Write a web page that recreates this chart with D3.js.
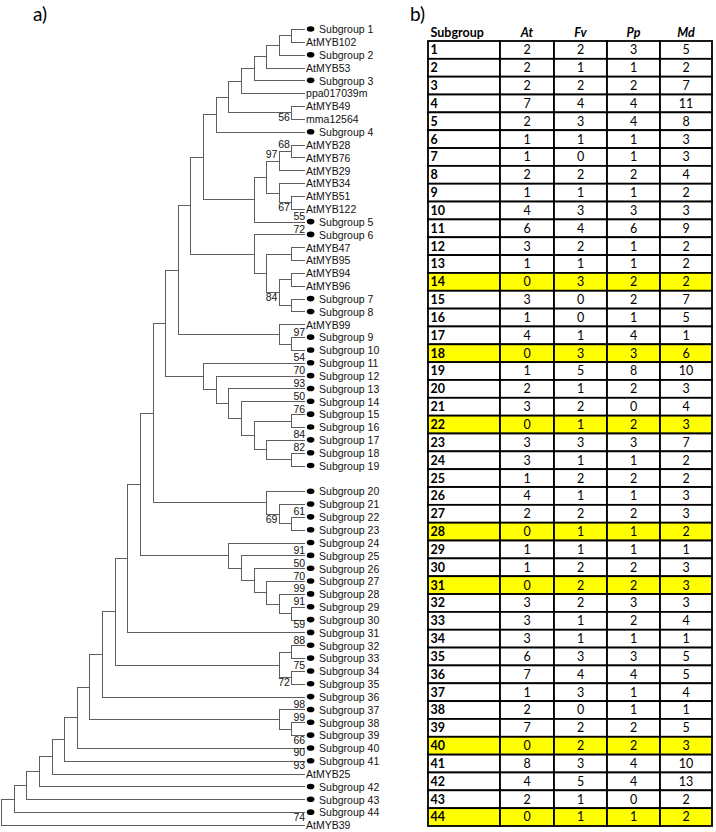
<!DOCTYPE html>
<html><head><meta charset="utf-8">
<script src="https://cdn.jsdelivr.net/npm/d3@7"></script>
<style>body{margin:0;background:#fff}</style>
</head><body>
<svg id="chart" width="716" height="832"></svg>
<script>
// ---------------- DATA ----------------
// Tree topology (Newick); internal-node labels = drawn node level (leaves sit at the last level)
const cladeA = "(((((((Subgroup 1,AtMYB102)23,Subgroup 2)22,AtMYB53)21,Subgroup 3)20,ppa017039m)19,(AtMYB49,mma12564)23)18,Subgroup 4)17";
const cladeB = "((((AtMYB28,AtMYB76)23,AtMYB29)22,(AtMYB34,(AtMYB51,AtMYB122)23)22)21,Subgroup 5)20";
const cladeC = "(Subgroup 6,((AtMYB47,AtMYB95)23,((AtMYB94,AtMYB96)23,(Subgroup 7,Subgroup 8)23)22)21)20";
const cladeD = "(AtMYB99,(Subgroup 9,Subgroup 10)23)22";
const cladeE = "(Subgroup 11,(Subgroup 12,(Subgroup 13,(Subgroup 14,((Subgroup 15,Subgroup 16)23,(Subgroup 17,(Subgroup 18,Subgroup 19)23)21)20)19)18)17)16";
const cladeF = "(Subgroup 20,(Subgroup 21,(Subgroup 22,Subgroup 23)23)22)21";
const cladeG = "(Subgroup 24,(Subgroup 25,(Subgroup 26,(Subgroup 27,(Subgroup 28,(Subgroup 29,Subgroup 30)23)22)21)20)19)18";
const cladeH = "((Subgroup 32,Subgroup 33)23,(Subgroup 34,Subgroup 35)23)22";
const cladeI = "(Subgroup 37,(Subgroup 38,Subgroup 39)23)22";

const treeNewick =
  "(((((((((((((((((" + cladeA + "," + cladeB + ")16," + cladeC + ")15," + cladeD + ")14," +
  cladeE + ")13," + cladeF + ")12," + cladeG + ")11,Subgroup 31)10," + cladeH + ")9,Subgroup 36)8," +
  cladeI + ")7,Subgroup 40)6,Subgroup 41)5,AtMYB25)4,Subgroup 42)3,Subgroup 43)2,Subgroup 44)1,AtMYB39)0";

const gapBeforeLeaves = ["Subgroup 20"];

// bootstrap values drawn at an internal node (node = common ancestor of two leaves)
const bootstrapAtNodes = [
  ["AtMYB49", "mma12564", 56, "below"],
  ["AtMYB28", "AtMYB76", 68, "above"],
  ["AtMYB28", "AtMYB29", 97, "above"],
  ["AtMYB51", "AtMYB122", 67, "below"],
  ["AtMYB94", "Subgroup 7", 84, "below"],
  ["Subgroup 21", "Subgroup 23", 69, "below"],
  ["Subgroup 34", "Subgroup 35", 72, "below"]
];
// bootstrap values drawn next to a leaf tip
const bootstrapAtLeaves = [
  ["Subgroup 5", 55, "above"], ["Subgroup 6", 72, "above"], ["Subgroup 9", 97, "above"],
  ["Subgroup 11", 54, "above"], ["Subgroup 12", 70, "above"], ["Subgroup 13", 93, "above"],
  ["Subgroup 14", 50, "above"], ["Subgroup 15", 76, "above"], ["Subgroup 17", 84, "above"],
  ["Subgroup 18", 82, "above"], ["Subgroup 22", 61, "above"], ["Subgroup 25", 91, "above"],
  ["Subgroup 26", 50, "above"], ["Subgroup 27", 70, "above"], ["Subgroup 28", 99, "above"],
  ["Subgroup 29", 91, "above"], ["Subgroup 30", 59, "below"], ["Subgroup 32", 88, "above"],
  ["Subgroup 34", 75, "above"], ["Subgroup 37", 98, "above"], ["Subgroup 38", 99, "above"],
  ["Subgroup 39", 66, "below"], ["Subgroup 40", 90, "below"], ["Subgroup 41", 93, "below"],
  ["Subgroup 44", 74, "below"]
];

// table
const tableColumns = ["Subgroup", "At", "Fv", "Pp", "Md"];
const subgroupIds = [1,2,3,4,5,6,7,8,9,10,11,12,13,14,15,16,17,18,19,20,21,22,23,24,25,26,27,28,29,30,31,32,33,34,35,36,37,38,39,40,41,42,43,44];
const countsAt = [2,2,2,7,2,1,1,2,1,4,6,3,1,0,3,1,4,0,1,2,3,0,3,3,1,4,2,0,1,1,0,3,3,3,6,7,1,2,7,0,8,4,2,0];
const countsFv = [2,1,2,4,3,1,0,2,1,3,4,2,1,3,0,0,1,3,5,1,2,1,3,1,2,1,2,1,1,2,2,2,1,1,3,4,3,0,2,2,3,5,1,1];
const countsPp = [3,1,2,4,4,1,1,2,1,3,6,1,1,2,2,1,4,3,8,2,0,2,3,1,2,1,2,1,1,2,2,3,2,1,3,4,1,1,2,2,4,4,0,1];
const countsMd = [5,2,7,11,8,3,3,4,2,3,9,2,2,2,7,5,1,6,10,3,4,3,7,2,2,3,3,2,1,3,3,3,4,1,5,5,4,1,5,3,10,13,2,2];
const highlightedSubgroups = [14,18,22,28,31,40,44];

// ---------------- HELPERS ----------------
function parseNewick(s) {
  let i = 0;
  function readLabel() {
    const j = i;
    while (i < s.length && !",()".includes(s[i])) i++;
    return s.slice(j, i).trim();
  }
  function node() {
    if (s[i] === "(") {
      i++;
      const children = [node()];
      while (s[i] === ",") { i++; children.push(node()); }
      i++; // ')'
      const lab = readLabel();
      return { name: null, level: +lab, children };
    }
    return { name: readLabel() };
  }
  return node();
}

// ---------------- DRAW ----------------
const svg = d3.select("#chart");
const treeFont = "'Liberation Sans', Arial, sans-serif";
const tableFont = "Lato, 'Open Sans', sans-serif";

// panel labels
svg.append("text").attr("x", 33).attr("y", 21).attr("font-family", tableFont)
  .attr("font-size", 19).text("a)");
svg.append("text").attr("x", 410).attr("y", 21).attr("font-family", tableFont)
  .attr("font-size", 19).text("b)");

// tree
const root = d3.hierarchy(parseNewick(treeNewick));
d3.cluster().nodeSize([1, 1])
  .separation(a => gapBeforeLeaves.includes(a.data.name) ? 2 : 1)(root);
const leaves = root.leaves();
const maxLevel = d3.max(root.descendants().filter(d => d.children), d => d.data.level) + 1;
const level = d => d.children ? d.data.level : maxLevel;

const xT = d3.scaleLinear().domain([0, maxLevel]).range([1.5, 304.6]);
const yT = d3.scaleLinear().domain(d3.extent(leaves, d => d.x)).range([29.5, 825.5]);

const gTree = svg.append("g");
gTree.selectAll("path.link")
  .data(root.descendants().filter(d => d.parent))
  .join("path")
  .attr("class", "link")
  .attr("fill", "none")
  .attr("stroke", "#5e5e5e")
  .attr("stroke-width", 1)
  .attr("shape-rendering", "crispEdges")
  .attr("d", d => `M${xT(level(d.parent))},${yT(d.parent.x)}V${yT(d.x)}H${xT(level(d))}`);

const isSub = d => /^Subgroup/.test(d.data.name);
gTree.selectAll("ellipse.dot")
  .data(leaves.filter(isSub))
  .join("ellipse")
  .attr("cx", d => xT(level(d)) + 6)
  .attr("cy", d => yT(d.x) - 0.5)
  .attr("rx", 3.8).attr("ry", 2.8)
  .attr("fill", "#000");

gTree.selectAll("text.leaf")
  .data(leaves)
  .join("text")
  .attr("class", "leaf")
  .attr("x", d => xT(level(d)) + (isSub(d) ? 14.5 : 1.5))
  .attr("y", d => yT(d.x) + 3.8)
  .attr("font-family", treeFont)
  .attr("font-size", 10.5)
  .attr("fill", "#111")
  .text(d => d.data.name);

const leafByName = new Map(leaves.map(d => [d.data.name, d]));
function lca(a, b) {
  const anc = new Set(leafByName.get(a).ancestors());
  return leafByName.get(b).ancestors().find(n => anc.has(n));
}
gTree.selectAll("text.bsn")
  .data(bootstrapAtNodes)
  .join("text")
  .attr("class", "bsn")
  .attr("text-anchor", "end")
  .attr("x", d => xT(level(lca(d[0], d[1]))) - 2)
  .attr("y", d => yT(lca(d[0], d[1]).x) + (d[3] === "above" ? -3 : 8.5))
  .attr("font-family", treeFont)
  .attr("font-size", 10.5)
  .attr("fill", "#111")
  .text(d => d[2]);

gTree.selectAll("text.bsl")
  .data(bootstrapAtLeaves)
  .join("text")
  .attr("class", "bsl")
  .attr("text-anchor", "end")
  .attr("x", d => xT(maxLevel) + 0.5)
  .attr("y", d => yT(leafByName.get(d[0]).x) + (d[2] === "above" ? -2 : 8))
  .attr("font-family", treeFont)
  .attr("font-size", 10.5)
  .attr("fill", "#111")
  .text(d => d[1]);

// table
const colEdges = [428, 500, 554, 607, 660, 712];
const colX = d3.scaleOrdinal().domain(tableColumns).range(colEdges.slice(0, 5));
const colW = c => colEdges[tableColumns.indexOf(c) + 1] - colX(c);
const rowY = d3.scaleBand().domain(subgroupIds).range([41, 826]).padding(0);
const valueCols = { At: countsAt, Fv: countsFv, Pp: countsPp, Md: countsMd };

const gTab = svg.append("g");
gTab.selectAll("text.hdr")
  .data(tableColumns)
  .join("text")
  .attr("class", "hdr")
  .attr("x", c => c === "Subgroup" ? colX(c) + 2.5 : colX(c) + colW(c) / 2)
  .attr("y", 37)
  .attr("text-anchor", c => c === "Subgroup" ? "start" : "middle")
  .attr("font-family", tableFont)
  .attr("font-size", 12.5)
  .attr("font-weight", "bold")
  .attr("font-style", c => c === "Subgroup" ? "normal" : "italic")
  .text(c => c);

const cells = [];
subgroupIds.forEach((id, i) => {
  tableColumns.forEach(c => {
    cells.push({ id, col: c, value: c === "Subgroup" ? id : valueCols[c][i],
                 hl: highlightedSubgroups.includes(id) });
  });
});

gTab.selectAll("rect.cell")
  .data(cells)
  .join("rect")
  .attr("class", "cell")
  .attr("x", d => colX(d.col))
  .attr("y", d => rowY(d.id))
  .attr("width", d => colW(d.col))
  .attr("height", rowY.bandwidth())
  .attr("fill", d => d.hl ? "#ffff00" : "#fff")
  .attr("stroke", "#000")
  .attr("stroke-width", 1.8);

gTab.selectAll("text.val")
  .data(cells)
  .join("text")
  .attr("class", "val")
  .attr("x", d => d.col === "Subgroup" ? colX(d.col) + 2.5 : colX(d.col) + colW(d.col) / 2)
  .attr("y", d => rowY(d.id) + rowY.bandwidth() / 2 + 4.4)
  .attr("text-anchor", d => d.col === "Subgroup" ? "start" : "middle")
  .attr("font-family", tableFont)
  .attr("font-size", 12.5)
  .attr("font-weight", d => d.col === "Subgroup" ? "bold" : "normal")
  .text(d => d.value);
</script>
</body></html>
